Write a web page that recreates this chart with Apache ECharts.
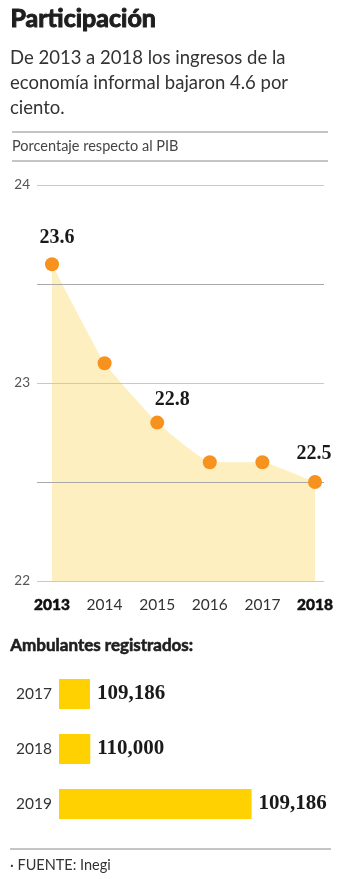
<!DOCTYPE html>
<html>
<head>
<meta charset="utf-8">
<script src="https://cdn.jsdelivr.net/npm/echarts@6/dist/echarts.min.js"></script>
<style>
html,body{margin:0;padding:0;background:#fff;}
#c{width:350px;height:879px;}
</style>
</head>
<body>
<div id="c"></div>
<script>
// ---- data ----
var years = ['2013', '2014', '2015', '2016', '2017', '2018'];
var pibShare = [23.6, 23.1, 22.8, 22.6, 22.6, 22.5];
var labelledYears = ['2013', '2015', '2018'];
var yTicks = [22, 23, 24];

var vendorYears = ['2017', '2018', '2019'];
var vendorLabels = ['109,186', '110,000', '109,186'];
// bar lengths as drawn in the source (2019 bar is drawn much longer than its printed label)
var vendorBarValues = [109186, 110000, 678000];

var titleText = 'Participación';
var subtitleLines = ['De 2013 a 2018 los ingresos de la', 'economía informal bajaron 4.6 por', 'ciento.'];
var unitText = 'Porcentaje respecto al PIB';
var barTitle = 'Ambulantes registrados:';
var sourceText = '· FUENTE: Inegi';

// ---- chart ----
var SANS = 'Lato, "Open Sans", sans-serif';
var SERIF = '"Liberation Serif", "DejaVu Serif", serif';
var labelOffsets = { '2013': [5, -26], '2015': [15, -23], '2018': [-1, -28] };

var dotData = pibShare.map(function (v, i) {
  var y = years[i];
  var item = { value: v };
  if (labelledYears.indexOf(y) >= 0) {
    item.label = { show: true, position: 'inside', offset: labelOffsets[y], formatter: String(v) };
  }
  return item;
});

var chart = echarts.init(document.getElementById('c'), null, { renderer: 'canvas' });

var graphics = [
  { type: 'text', left: 10, top: 6, style: { text: titleText, font: 'bold 25px ' + SANS, fill: '#1e1e1e', stroke: '#1e1e1e', lineWidth: 1 } },
  { type: 'text', left: 10, top: 46, style: { text: subtitleLines.join('\n'), font: '400 18.5px ' + SANS, lineHeight: 25, fill: '#333' } },
  { type: 'line', shape: { x1: 12, y1: 132, x2: 328, y2: 132 }, style: { stroke: '#8a8a8a', lineWidth: 1 } },
  { type: 'text', left: 12, top: 139, style: { text: unitText, font: '400 14.5px ' + SANS, fill: '#444' } },
  { type: 'line', shape: { x1: 12, y1: 161, x2: 328, y2: 161 }, style: { stroke: '#8a8a8a', lineWidth: 1 } },
  { type: 'text', left: 10, top: 637, style: { text: barTitle, font: 'bold 17px ' + SANS, fill: '#1e1e1e', stroke: '#1e1e1e', lineWidth: 0.6 } },
  { type: 'line', shape: { x1: 10, y1: 849, x2: 331, y2: 849 }, style: { stroke: '#8a8a8a', lineWidth: 1 } },
  { type: 'text', left: 10, top: 858, style: { text: sourceText, font: '400 14.5px ' + SANS, fill: '#333' } }
];

var option = {
  animation: false,
  backgroundColor: '#fff',
  graphic: graphics,
  grid: [
    { left: 37, right: 26, top: 185, height: 396 },
    { left: 52, right: 35, top: 185, height: 396 },
    { left: 59, right: 41, top: 666.5, height: 165 }
  ],
  xAxis: [
    { gridIndex: 0, type: 'category', data: years, boundaryGap: false, show: false },
    {
      gridIndex: 1, type: 'category', data: years, boundaryGap: false,
      axisLine: { show: false }, axisTick: { show: false },
      axisLabel: {
        interval: 0, margin: 16, fontSize: 15.5, fontFamily: SANS, color: '#333',
        formatter: function (v, i) { return (i === 0 || i === years.length - 1) ? '{b|' + v + '}' : v; },
        rich: { b: { fontSize: 15.5, fontWeight: 900, fontFamily: SANS, color: '#111', textBorderColor: '#111', textBorderWidth: 0.5 } }
      }
    },
    { gridIndex: 2, type: 'value', min: 0, max: 880000, show: false }
  ],
  yAxis: [
    {
      gridIndex: 0, type: 'value', min: 22, max: 24, interval: 0.5, z: 2,
      axisLine: { show: false }, axisTick: { show: false },
      axisLabel: {
        margin: 7, fontSize: 13.5, fontFamily: SANS, color: '#555',
        formatter: function (v) { return yTicks.indexOf(v) >= 0 ? String(v) : ''; }
      },
      splitLine: { show: true, lineStyle: { color: ['#c9c9c9', '#a9a9a9'], width: 1 } }
    },
    { gridIndex: 1, type: 'value', min: 22, max: 24, show: false },
    {
      gridIndex: 2, type: 'category', data: vendorYears, inverse: true,
      axisLine: { show: false }, axisTick: { show: false },
      axisLabel: { margin: 7, fontSize: 15.5, fontFamily: SANS, color: '#333' }
    }
  ],
  series: [
    {
      type: 'line', xAxisIndex: 1, yAxisIndex: 1, data: pibShare, z: 1,
      smooth: 0.1, showSymbol: false, symbol: 'none',
      lineStyle: { width: 0 },
      areaStyle: { color: '#fdefc0', opacity: 1 }
    },
    {
      type: 'scatter', xAxisIndex: 1, yAxisIndex: 1, data: dotData, z: 5,
      symbolSize: 14, itemStyle: { color: '#f7921e', opacity: 1 },
      label: { show: false, fontFamily: SERIF, fontWeight: 'bold', fontSize: 20, color: '#1a1a1a' }
    },
    {
      type: 'bar', xAxisIndex: 2, yAxisIndex: 2, barWidth: 30,
      data: vendorBarValues.map(function (v, i) { return { value: v, label: { formatter: vendorLabels[i] } }; }),
      itemStyle: { color: '#ffd100' },
      label: { show: true, position: 'right', distance: 7, fontFamily: SERIF, fontWeight: 'bold', fontSize: 21, color: '#1a1a1a' }
    }
  ]
};

chart.setOption(option);
</script>
</body>
</html>
